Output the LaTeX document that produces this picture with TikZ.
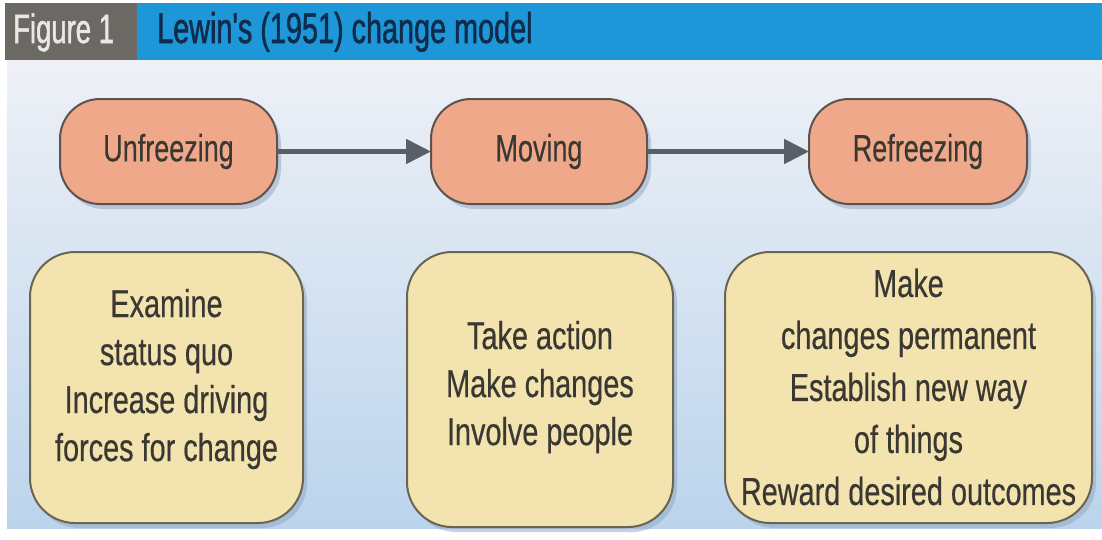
\documentclass[tikz,border=0pt]{standalone}
\usepackage{fontspec}
\setmainfont{Liberation Sans}[FakeStretch=0.74,FakeBold=0.4]
\newfontfamily\labelfont{Liberation Sans}[FakeStretch=0.71,FakeBold=0.4]
\newfontfamily\headfont{Liberation Sans}[FakeStretch=0.67,FakeBold=1.2]
\usetikzlibrary{arrows.meta,shadows,calc}
\definecolor{bgtop}{HTML}{EEF0F6}
\definecolor{bgmid}{HTML}{E0E8F3}
\definecolor{bgbot}{HTML}{BBD4EC}
\definecolor{headblue}{HTML}{1E97D9}
\definecolor{headgray}{HTML}{6C6864}
\definecolor{titlenavy}{HTML}{0F2C4C}
\definecolor{figtext}{HTML}{E8E8E8}
\definecolor{salmon}{HTML}{EFA98A}
\definecolor{salmonline}{HTML}{5E524C}
\definecolor{cream}{HTML}{F3E3AF}
\definecolor{creamline}{HTML}{6A6550}
\definecolor{txt}{HTML}{3A3832}
\definecolor{arrowgray}{HTML}{5A5E66}
\definecolor{shadowc}{HTML}{8FA6C0}
\begin{document}
\begin{tikzpicture}[x=1pt,y=-1pt,
  shadowed/.style={drop shadow={shadow xshift=4pt,shadow yshift=-5pt,fill=shadowc,opacity=0.5}},
  topbox/.style={shadowed,draw=salmonline,line width=2pt,fill=salmon,rounded corners=40pt,
    minimum height=105pt,inner sep=0pt,outer sep=0pt,text=txt,font=\labelfont\fontsize{38}{44}\selectfont},
  botbox/.style={shadowed,draw=creamline,line width=2pt,fill=cream,rounded corners=45pt,
    inner sep=0pt,outer sep=0pt},
  bottext/.style={align=center,text=txt,inner sep=0pt},
  conn/.style={draw=arrowgray,line width=5pt,-{Triangle[length=25pt,width=24pt]}},
  headtext/.style={anchor=base west,inner sep=0pt,font=\headfont\fontsize{43}{50}\selectfont}
]
\useasboundingbox (0,0) rectangle (1102,539);
\fill[white] (0,0) rectangle (1102,539);
% background
\shade[top color=bgtop,middle color=bgmid,bottom color=bgbot] (7,60) rectangle (1102,528);
% header
\fill[headblue] (5,3) rectangle (1102,60);
\fill[headgray] (5,3) rectangle (137,60);
\node[headtext,text=figtext,font=\headfont\fontsize{41}{48}\selectfont] (fig) at (13,43) {Figure 1};
\node[headtext,text=titlenavy] (title) at (157,43) {Lewin's (1951) change model};
% top row
\node[topbox,minimum width=217pt] (u) at (168.5,151.5) {Unfreezing};
\node[topbox,minimum width=216pt] (m) at (539,151.5) {Moving};
\node[topbox,minimum width=218pt] (r) at (918,151.5) {Refreezing};
\draw[conn] (u) -- (m);
\draw[conn] (m) -- (r);
% bottom row
\node[botbox,minimum width=273pt,minimum height=271pt] (b1) at (166.5,387.5) {};
\node[botbox,minimum width=266pt,minimum height=275pt] (b2) at (540,389.5) {};
\node[botbox,minimum width=367pt,minimum height=271pt] (b3) at (908.5,387.5) {};
\node[bottext,font=\fontsize{39}{48}\selectfont] (t1) at (166.5,379) {Examine\\status quo\\Increase driving\\forces for change};
\node[bottext,font=\fontsize{39}{48}\selectfont] (t2) at (540,387) {Take action\\Make changes\\Involve people};
\node[bottext,font=\fontsize{39}{52}\selectfont] (t3) at (908.5,387) {Make\\changes permanent\\Establish new way\\of things\\Reward desired outcomes};
\end{tikzpicture}
\end{document}
